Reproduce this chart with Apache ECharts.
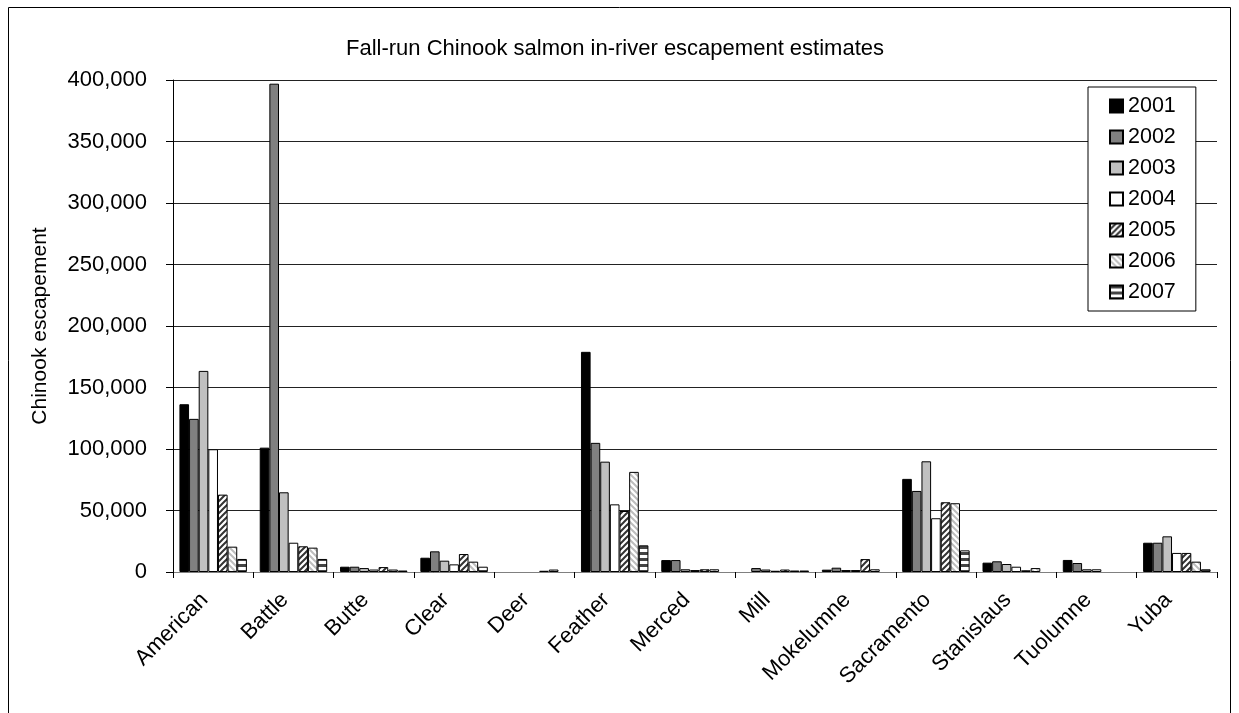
<!DOCTYPE html>
<html>
<head>
<meta charset="utf-8">
<script src="https://cdn.jsdelivr.net/npm/echarts@6/dist/echarts.min.js"></script>
<style>
html,body{margin:0;padding:0;background:#fff;}
#chart{width:1239px;height:713px;}
</style>
</head>
<body>
<div id="chart"></div>
<script>
const categories = ['American','Battle','Butte','Clear','Deer','Feather','Merced','Mill','Mokelumne','Sacramento','Stanislaus','Tuolumne','Yuba'];
const years = ['2001','2002','2003','2004','2005','2006','2007'];
const y2001 = [136400, 101100, 4300, 11600, null, 179000, 9700, null, 1900, 75700, 7600, 9800, 23800];
const y2002 = [124500, 397000, 4300, 16800, null, 105000, 9700, 3200, 3500, 65900, 8700, 7300, 23800];
const y2003 = [163500, 64800, 3200, 9200, null, 89700, 2200, 2000, 1600, 90000, 6500, 2200, 29000];
const y2004 = [99800, 23800, 2000, 6200, null, 55000, 1600, 1000, 1600, 43700, 4300, 2200, 15500];
const y2005 = [62900, 20900, 4000, 14600, 1000, 49600, 2200, 2000, 10500, 56700, 1400, null, 15500];
const y2006 = [20600, 19800, 2000, 8400, 2000, 81400, 2200, 1200, 2200, 55900, 3200, null, 8400];
const y2007 = [10600, 10600, 1200, 4300, null, 21700, null, 1200, null, 17600, null, null, 2200];
const yTicks = [0, 50000, 100000, 150000, 200000, 250000, 300000, 350000, 400000];

function makePattern(kind){
  const c = document.createElement('canvas');
  const s = 6;
  c.width = s; c.height = s;
  const g = c.getContext('2d');
  g.fillStyle = '#fff'; g.fillRect(0,0,s,s);
  if(kind === 'fwd'){
    g.strokeStyle = '#333'; g.lineWidth = 2;
    g.beginPath();
    g.moveTo(-1, s+1); g.lineTo(s+1, -1);
    g.moveTo(-1, 1); g.lineTo(1, -1);
    g.moveTo(s-1, s+1); g.lineTo(s+1, s-1);
    g.stroke();
  } else if(kind === 'back'){
    g.strokeStyle = '#bdbdbd'; g.lineWidth = 2;
    g.beginPath();
    g.moveTo(-1, -1); g.lineTo(s+1, s+1);
    g.moveTo(s-1, -1); g.lineTo(s+1, 1);
    g.moveTo(-1, s-1); g.lineTo(1, s+1);
    g.stroke();
  } else if(kind === 'horiz'){
    g.fillStyle = '#444';
    g.fillRect(0,0,s,3);
  }
  return {image: c, repeat: 'repeat'};
}

const fills = ['#000000','#808080','#c0c0c0','#ffffff', makePattern('fwd'), makePattern('back'), makePattern('horiz')];
const values = [y2001,y2002,y2003,y2004,y2005,y2006,y2007];

const fmt = v => String(v).replace(/\B(?=(\d{3})+(?!\d))/g, ',');
const FF = 'Liberation Sans, Arial, sans-serif';

const chart = echarts.init(document.getElementById('chart'), null, {renderer:'canvas'});
chart.setOption({
  animation: false,
  backgroundColor: '#fff',
  textStyle: {fontFamily: FF, color:'#000'},
  title: {
    text: 'Fall-run Chinook salmon in-river escapement estimates',
    left: 610, top: 33, textAlign: 'center',
    textStyle: {fontSize: 22, fontWeight: 'normal', color: '#000', fontFamily: FF}
  },
  graphic: [{
    type: 'rect', shape: {x: 8.5, y: 7.5, width: 1222, height: 720},
    style: {fill: 'none', stroke: '#000', lineWidth: 1}, silent: true, z: -1
  }],
  legend: {
    orient: 'vertical', left: 1088, top: 87,
    data: years,
    backgroundColor: '#fff', borderColor: '#000', borderWidth: 1,
    padding: [8, 20, 8, 21],
    itemWidth: 13, itemHeight: 13, itemGap: 9,
    icon: 'rect',
    textStyle: {fontSize: 21.5, color: '#000', fontFamily: FF},
    z: 10
  },
  grid: {left: 173, top: 80, right: 22, bottom: 141, containLabel: false},
  xAxis: {
    type: 'category', data: categories,
    axisLine: {lineStyle: {color: '#808080', width: 1}},
    axisTick: {show: true, length: 6, lineStyle: {color: '#000'}},
    axisLabel: {rotate: 45, fontSize: 22, color: '#000', margin: 16, interval: 0, padding: [0, 12, 0, 0], fontFamily: FF}
  },
  yAxis: {
    type: 'value', min: 0, max: 400000, interval: 50000,
    name: 'Chinook escapement', nameLocation: 'middle', nameGap: 122,
    nameTextStyle: {fontSize: 21, color: '#000', fontFamily: FF},
    axisLine: {show: true, lineStyle: {color: '#000'}},
    axisTick: {show: true, length: 7, lineStyle: {color: '#000'}},
    axisLabel: {fontSize: 22, color: '#000', margin: 26, formatter: v => fmt(v), fontFamily: FF},
    splitLine: {lineStyle: {color: '#222', width: 1}}
  },
  series: years.map((y, i) => ({
    name: y, type: 'bar', data: values[i],
    barGap: '0%', barCategoryGap: '16%',
    itemStyle: {color: fills[i], borderColor: '#000', borderWidth: 1}
  }))
});
</script>
</body>
</html>
